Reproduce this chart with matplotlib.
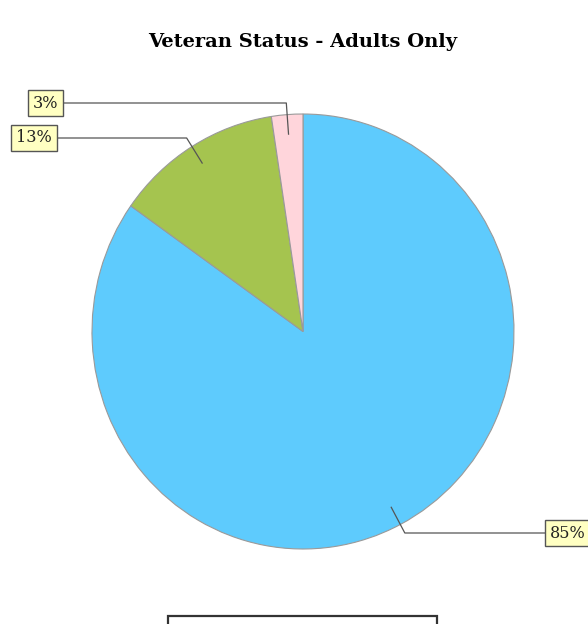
import numpy as np
import matplotlib.pyplot as plt
from matplotlib.patches import Rectangle

# data
values = [84.8, 12.8, 2.4]
pct_text = ["85%", "13%", "3%"]
colors = ["#5ECBFD", "#A5C44F", "#FFD5DB"]

W, H = 588, 624
fig = plt.figure(figsize=(W / 100, H / 100), dpi=100)

# overlay axes in pixel units (y up)
ov = fig.add_axes([0, 0, 1, 1], zorder=2)
ov.set_xlim(0, W)
ov.set_ylim(0, H)
ov.axis("off")

# pie axes, slightly taller than wide like the reference
cx, cy = 303, H - 331.5
rx, ry = 211, 217.5
pa = fig.add_axes([(cx - rx) / W, (cy - ry) / H, 2 * rx / W, 2 * ry / H], zorder=1)
wedges, _ = pa.pie(values, colors=colors, startangle=90, counterclock=False,
                   radius=1, wedgeprops=dict(edgecolor="#9a9a9a", linewidth=0.8))
pa.set_aspect("auto")
pa.set_xlim(-1, 1)
pa.set_ylim(-1, 1)
pa.axis("off")

fig.text(303 / W, 1 - 42 / H, "Veteran Status - Adults Only", ha="center", va="center",
         fontsize=14, fontweight="bold", family="DejaVu Serif")

# label layout: (text x, line y from top, alignment)
label_pos = [(546, 533, "left"), (57, 138, "right"), (63, 103, "right")]
for w, txt, (lx, ly, ha) in zip(wedges, pct_text, label_pos):
    mid = np.deg2rad((w.theta1 + w.theta2) / 2)
    x0, y0 = cx + 0.91 * rx * np.cos(mid), cy + 0.91 * ry * np.sin(mid)
    bx, by = cx + 1.05 * rx * np.cos(mid), cy + 1.05 * ry * np.sin(mid)
    ly = H - ly
    ov.plot([x0, bx, lx], [y0, ly, ly], color="#555555", lw=0.9, zorder=3)
    tx = lx + 4 if ha == "left" else lx - 5
    ov.text(tx, ly, txt, ha=ha, va="center", fontsize=11.5,
            family="DejaVu Serif", color="#222222", zorder=4,
            bbox=dict(boxstyle="square,pad=0.3", fc="#FFFFC2", ec="#555555", lw=1.0))

# legend frame: only its top edge falls inside the image
ov.add_patch(Rectangle((168, -60), 269, 68, fill=False, ec="#333333", lw=1.6,
                       clip_on=False))

fig.savefig("out.png", dpi=100)
